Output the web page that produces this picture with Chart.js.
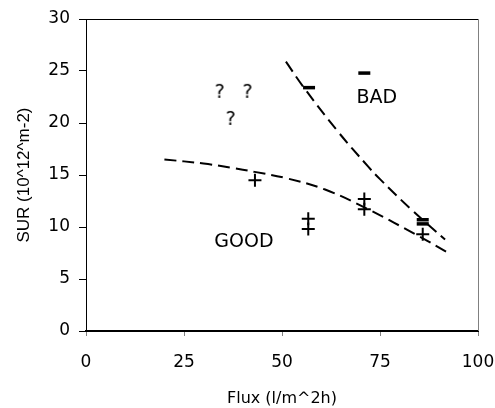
<!DOCTYPE html>
<html>
<head>
<meta charset="utf-8">
<script src="https://cdn.jsdelivr.net/npm/chart.js@4"></script>
<style>
  html, body { margin: 0; padding: 0; background: #fff; }
  #wrap { width: 495px; height: 408px; }
</style>
</head>
<body>
<div id="wrap"><canvas id="grafico" width="495" height="408"></canvas></div>
<script>
// valores (Flux x SUR)
const goodX = [43.1, 56.7, 56.7, 71.0, 71.0, 85.9];
const goodY = [14.5, 10.8, 9.8, 12.7, 11.7, 9.3];

const badX = [56.9, 71.0, 85.9, 85.9];
const badY = [23.4, 24.8, 10.7, 10.3];

const duvidaX = [34.1, 41.2, 36.9];
const duvidaY = [22.9, 22.9, 20.3];

// curvas tracejadas (fronteiras)
const curvaGoodX = [20, 30, 37, 43, 51, 61, 72, 85, 92];
const curvaGoodY = [16.5, 16.1, 15.7, 15.3, 14.7, 13.6, 11.7, 9.1, 7.6];

const curvaBadX = [51, 55.4, 64, 72, 75, 83.5, 91.6];
const curvaBadY = [25.9, 23.5, 19.3, 15.8, 14.6, 11.5, 8.8];

// rótulos das regiões
const rotulos = ['BAD', 'GOOD'];
const rotuloX = [74.2, 40.3];
const rotuloY = [22.4, 8.55];

const xTicks = [0, 25, 50, 75, 100];
const yTicks = [0, 5, 10, 15, 20, 25, 30];

const pares = (xs, ys) => xs.map((x, i) => ({ x: x, y: ys[i] }));

// marcador "?" desenhado num canvas pequeno
function marcadorTexto(txt) {
    const c = document.createElement('canvas');
    c.width = 20; c.height = 24;
    const g = c.getContext('2d');
    g.font = '19px "DejaVu Sans"';
    g.fillStyle = '#000';
    g.textAlign = 'center';
    g.textBaseline = 'middle';
    g.fillText(txt, 10, 12);
    return c;
}

const molduraERotulos = {
    id: 'molduraERotulos',
    afterDatasetsDraw(chart) {
        const { ctx, chartArea: a, scales } = chart;
        ctx.save();
        // borda de cima e da direita
        ctx.lineWidth = 1;
        ctx.strokeStyle = '#000';
        ctx.beginPath();
        ctx.moveTo(a.left, a.top + 0.5);
        ctx.lineTo(a.right, a.top + 0.5);
        ctx.stroke();
        ctx.strokeStyle = '#808080';
        ctx.beginPath();
        ctx.moveTo(a.right + 0.5, a.top);
        ctx.lineTo(a.right + 0.5, a.bottom);
        ctx.stroke();

        ctx.font = '19px "DejaVu Sans"';
        ctx.fillStyle = '#000';
        ctx.textAlign = 'center';
        ctx.textBaseline = 'middle';
        rotulos.forEach((t, i) => {
            ctx.fillText(t, scales.x.getPixelForValue(rotuloX[i]), scales.y.getPixelForValue(rotuloY[i]));
        });
        ctx.restore();
    }
};

const ctxGrafico = document.getElementById('grafico').getContext('2d');

new Chart(ctxGrafico, {
    type: 'scatter',
    data: {
        datasets: [
            {
                label: 'curva good',
                type: 'line',
                data: pares(curvaGoodX, curvaGoodY),
                borderColor: '#000',
                borderWidth: 2,
                borderDash: [12, 6],
                pointRadius: 0,
                fill: false,
                tension: 0.4
            },
            {
                label: 'curva bad',
                type: 'line',
                data: pares(curvaBadX, curvaBadY),
                borderColor: '#000',
                borderWidth: 2,
                borderDash: [12, 6],
                pointRadius: 0,
                fill: false,
                tension: 0.4
            },
            {
                label: 'good',
                data: pares(goodX, goodY),
                pointStyle: 'cross',
                pointRadius: 6.5,
                borderColor: '#000',
                borderWidth: 2
            },
            {
                label: 'bad',
                data: pares(badX, badY),
                pointStyle: 'line',
                pointRadius: 6,
                borderColor: '#000',
                borderWidth: 3.5
            },
            {
                label: '?',
                data: pares(duvidaX, duvidaY),
                pointStyle: marcadorTexto('?')
            }
        ]
    },
    options: {
        responsive: false,
        animation: false,
        layout: { padding: { top: 19, right: 17, left: 0, bottom: 0 } },
        plugins: {
            legend: { display: false },
            tooltip: { enabled: false }
        },
        scales: {
            x: {
                type: 'linear',
                min: 0,
                max: 100,
                afterFit: s => { s.height = 77; s.paddingLeft = 0; s.paddingRight = 0; },
                afterBuildTicks: s => { s.ticks = xTicks.map(v => ({ value: v })); },
                grid: { display: true, drawOnChartArea: false, drawTicks: true, tickLength: 5, color: '#808080' },
                border: { display: true, color: '#000', width: 2 },
                ticks: { color: '#000', padding: 16, font: { family: 'DejaVu Sans', size: 17 } },
                title: {
                    display: true,
                    text: 'Flux (l/m^2h)',
                    color: '#000',
                    font: { family: 'DejaVu Sans', size: 16 },
                    padding: { top: 0, bottom: 0 }
                }
            },
            y: {
                type: 'linear',
                min: 0,
                max: 30,
                afterFit: s => { s.width = 86; s.paddingTop = 0; s.paddingBottom = 0; },
                afterBuildTicks: s => { s.ticks = yTicks.map(v => ({ value: v })); },
                grid: { display: true, drawOnChartArea: false, drawTicks: true, tickLength: 7, color: '#000' },
                border: { display: true, color: '#000', width: 1 },
                ticks: { color: '#000', padding: 9, font: { family: 'DejaVu Sans', size: 17 } },
                title: {
                    display: true,
                    text: 'SUR (10^12^m-2)',
                    color: '#000',
                    font: { family: 'Liberation Sans', size: 17 },
                    padding: { top: 14, bottom: 0 }
                }
            }
        }
    },
    plugins: [molduraERotulos]
});
</script>
</body>
</html>
